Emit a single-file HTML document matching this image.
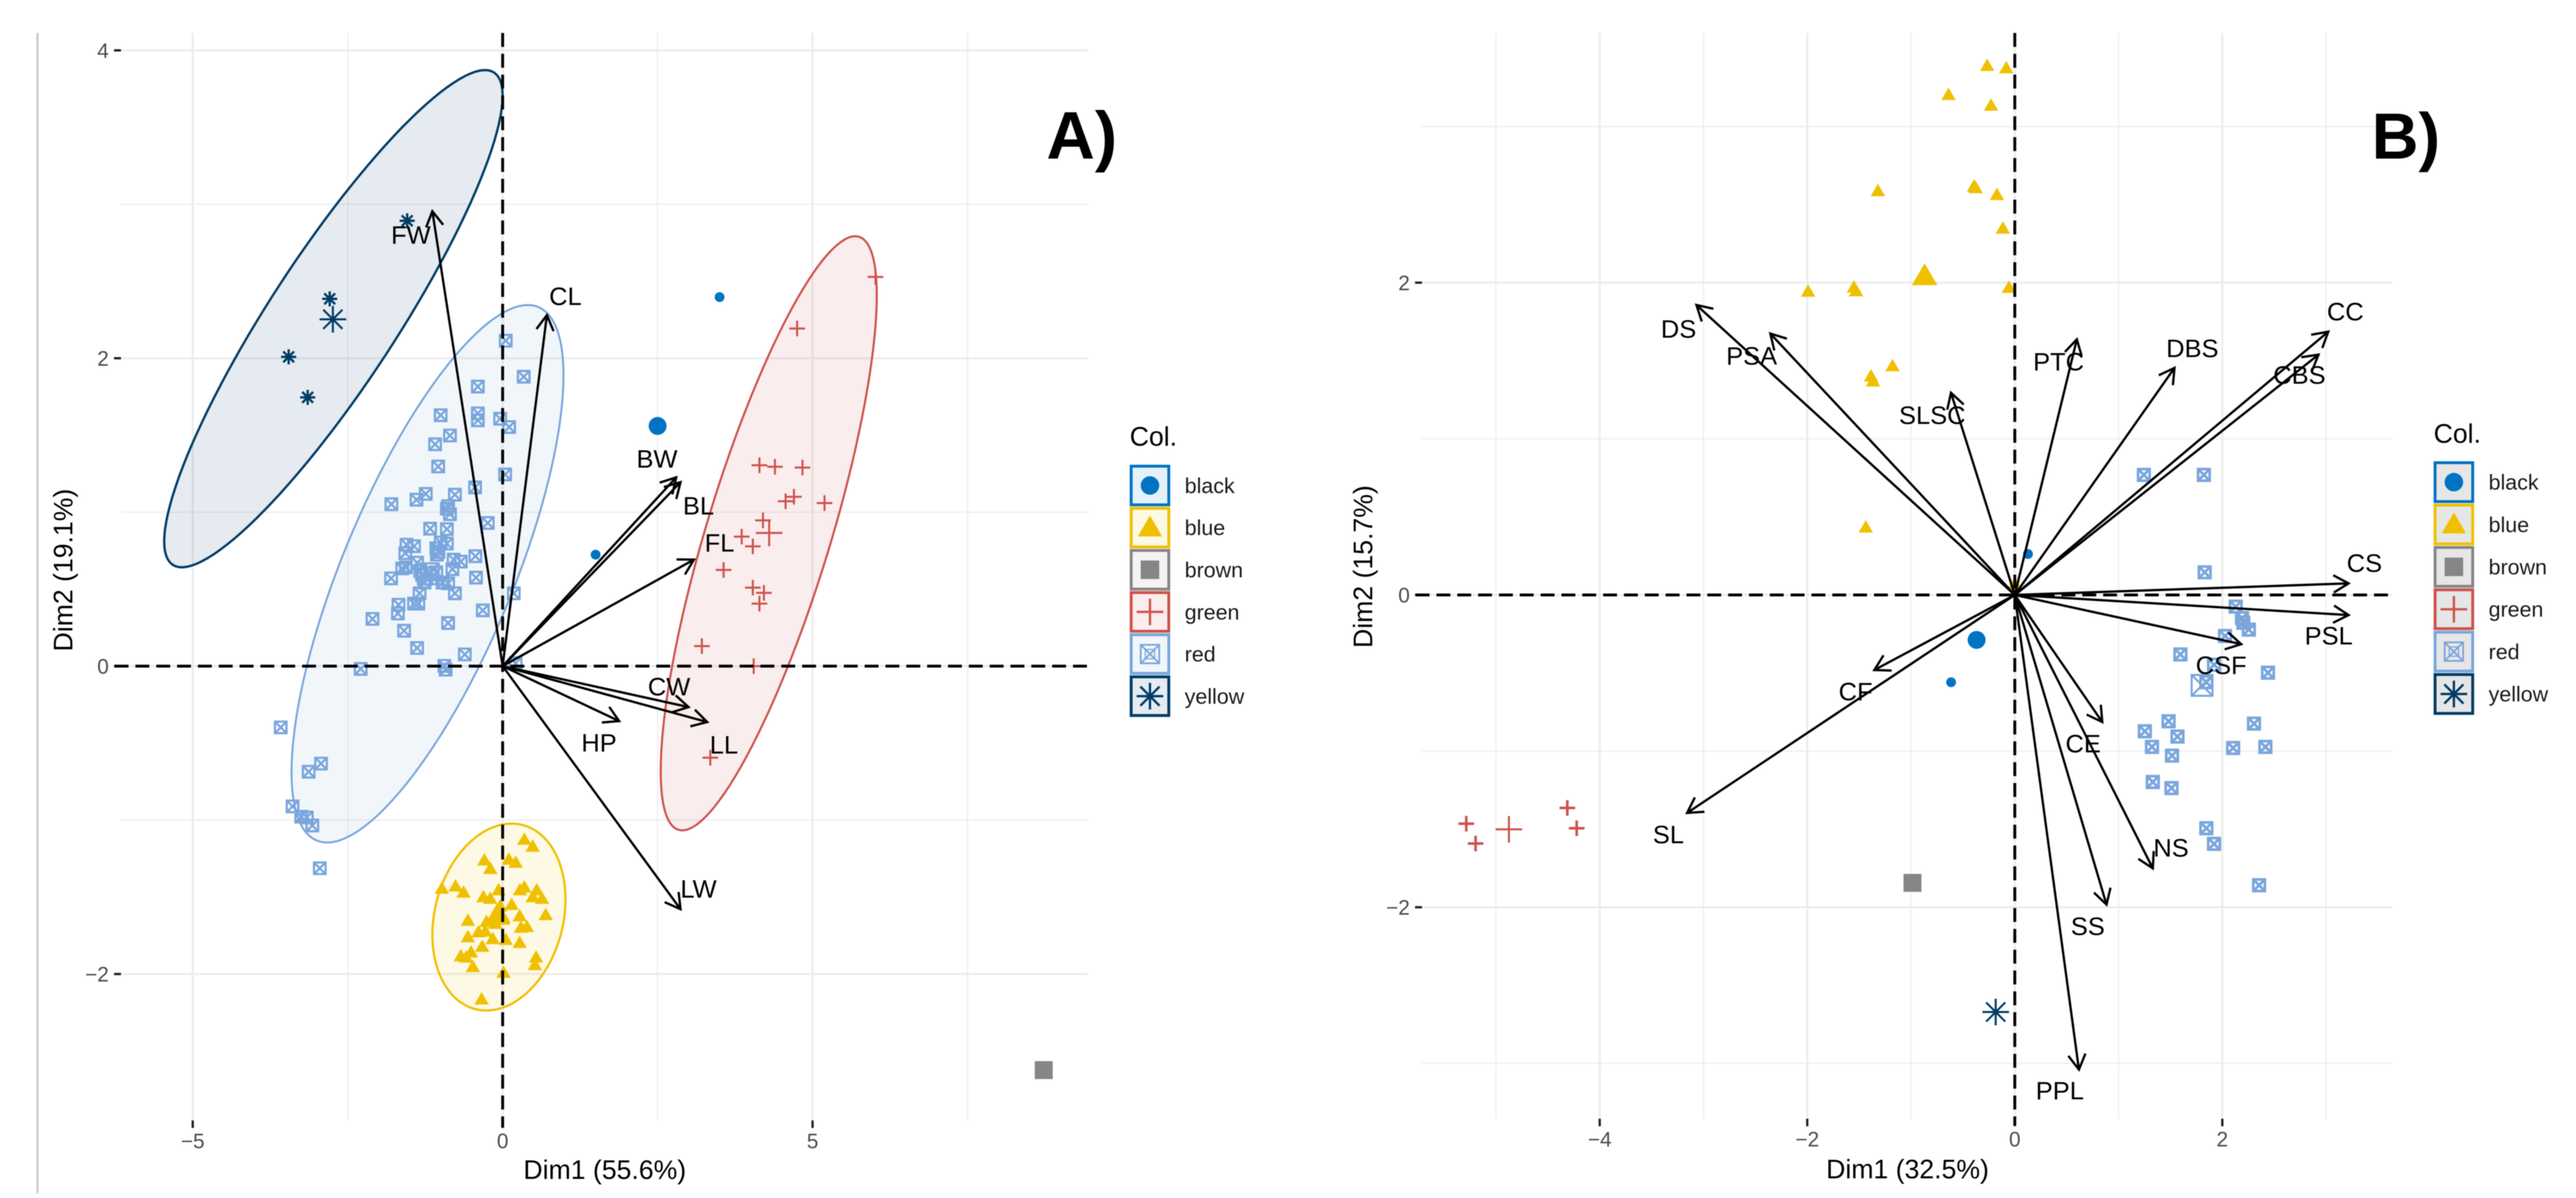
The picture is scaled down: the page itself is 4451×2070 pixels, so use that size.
<!DOCTYPE html>
<html lang="en">
<head>
<meta charset="utf-8">
<title>PCA biplots</title>
<style>
html,body{margin:0;padding:0;background:#fff;}
svg{display:block;filter:blur(0.8px);}
text{font-family:"Liberation Sans",sans-serif;}
</style>
</head>
<body>
<svg id="figure" xmlns="http://www.w3.org/2000/svg" width="4451" height="2070" viewBox="0 0 4451 2070">
  <rect x="0" y="0" width="4451" height="2070" fill="#ffffff"/>
  <rect x="63" y="57" width="3.5" height="2005" fill="#c8c8c8"/>
  <g id="panel-a"></g>
  <g id="panel-b"></g>
  <text x="1045" y="2037" font-size="46" text-anchor="middle" fill="#000">Dim1 (55.6%)</text>
  <text transform="translate(125 985) rotate(-90)" font-size="46" text-anchor="middle" fill="#000">Dim2 (19.1%)</text>
  <text x="3296" y="2036" font-size="46" text-anchor="middle" fill="#000">Dim1 (32.5%)</text>
  <text transform="translate(2371 979) rotate(-90)" font-size="46" text-anchor="middle" fill="#000">Dim2 (15.7%)</text>
  <text x="1808" y="274" font-size="116" font-weight="bold" fill="#000">A)</text>
  <text x="4098" y="274" font-size="112" font-weight="bold" fill="#000">B)</text>
  <text x="1952" y="770" font-size="46" fill="#000">Col.</text>
  <text x="4205" y="765" font-size="46" fill="#000">Col.</text>
</svg>
<script>
// ---- shared categories ----
const legendNames = ['black', 'blue', 'brown', 'green', 'red', 'yellow'];
const groupColors = ['#0073C2', '#EFC000', '#868686', '#CD534C', '#7AA6DC', '#003C67'];
const groupShapes = ['circle', 'triangle', 'square', 'plus', 'boxx', 'star'];

// ---- panel A tick values ----
const aXMajor = [-5, 0, 5];
const aXMinor = [-2.5, 2.5, 7.5];
const aYMajor = [-2, 0, 2, 4];
const aYMinor = [-1, 1, 3];
const aXTickLabels = ['\u22125', '0', '5'];
const aYTickLabels = ['\u22122', '0', '2', '4'];

// ---- panel A points in Dim1 / Dim2 units ----
const aBlack = [[3.50, 2.397], [1.50, 0.724]];
const aBlackMean = [2.50, 1.56];
const aBlue = [[0.35,-1.127],[0.485,-1.172],[-0.295,-1.261],[-0.20,-1.316],[0.10,-1.256],[0.21,-1.276],[-0.98,-1.445],[-0.76,-1.43],[-0.63,-1.47],[-0.31,-1.50],[-0.20,-1.51],[-0.065,-1.455],[0.28,-1.455],[0.35,-1.437],[0.55,-1.455],[0.485,-1.50],[0.635,-1.51],[0.145,-1.55],[-0.04,-1.56],[0.695,-1.616],[0.275,-1.624],[-0.085,-1.611],[0.015,-1.636],[-0.15,-1.648],[-0.56,-1.653],[-0.26,-1.661],[-0.12,-1.673],[0.39,-1.693],[0.295,-1.698],[0.05,-1.777],[0.275,-1.797],[-0.16,-1.772],[-0.28,-1.723],[-0.39,-1.728],[-0.56,-1.76],[-0.33,-1.822],[-0.51,-1.859],[0.54,-1.892],[0.52,-1.941],[-0.675,-1.884],[-0.59,-1.892],[-0.48,-1.954],[0.015,-1.991],[-0.34,-2.164]];
const aBlueMean = [-0.085, -1.62];
const aBrownMean = [8.73, -2.624];
const aGreen = [[6.015,2.528],[4.751,2.193],[4.143,1.305],[4.393,1.295],[4.837,1.29],[4.565,1.071],[4.70,1.10],[5.193,1.059],[4.20,0.947],[3.857,0.841],[4.036,0.778],[3.565,0.625],[4.036,0.51],[4.215,0.476],[4.143,0.406],[3.214,0.13],[4.05,0.0],[3.35,-0.595]];
const aGreenMean = [4.30, 0.865];
const aRed = [[0.05,2.114],[0.34,1.88],[-0.40,1.816],[-1.00,1.63],[-0.40,1.642],[-0.40,1.597],[-0.04,1.607],[0.105,1.553],[-0.85,1.498],[-1.09,1.441],[-1.04,1.297],[0.04,1.245],[-0.445,1.161],[-1.795,1.052],[-1.39,1.081],[-1.24,1.119],[-0.77,1.114],[-0.90,1.022],[-0.85,0.987],[-0.88,1.039],[-0.24,0.93],[-1.17,0.893],[-0.90,0.89],[-1.55,0.789],[-1.43,0.779],[-1.57,0.734],[-1.00,0.803],[-0.90,0.796],[-1.07,0.766],[-1.035,0.741],[-0.79,0.692],[-0.675,0.679],[-0.44,0.714],[-1.06,0.724],[-1.38,0.672],[-1.62,0.635],[-1.56,0.642],[-1.80,0.57],[-0.81,0.63],[-0.43,0.575],[-1.33,0.617],[-1.30,0.593],[-1.23,0.568],[-1.17,0.605],[-1.07,0.61],[-0.97,0.543],[-0.88,0.538],[-0.77,0.473],[0.18,0.473],[-1.34,0.473],[-1.26,0.543],[-1.68,0.399],[-1.43,0.406],[-1.36,0.406],[-1.69,0.342],[-0.32,0.362],[-2.10,0.307],[-0.88,0.28],[-1.59,0.23],[-1.38,0.118],[-0.61,0.076],[-2.29,-0.018],[-0.94,0.002],[-0.92,-0.023],[0.21,0.019],[-3.58,-0.398],[-2.93,-0.633],[-3.13,-0.686],[-3.39,-0.911],[-3.25,-0.978],[-3.16,-0.983],[-3.07,-1.035],[-2.95,-1.313]];
const aRedMean = [-1.2, 0.6];
const aYellow = [[-1.54,2.893],[-2.79,2.386],[-3.452,2.009],[-3.145,1.746]];
const aYellowMean = [-2.739, 2.253];

// ---- panel A confidence ellipses: centre, half-width, half-height, phase ----
const aEllipseYellow = [-2.73, 2.257, 2.73, 1.615, 0.46];
const aEllipseRed = [-1.212, 0.60, 2.194, 1.746, 0.741];
const aEllipseBlue = [-0.06, -1.63, 1.074, 0.607, 1.38];
const aEllipseGreen = [4.293, 0.863, 1.743, 1.93, 0.643];

// ---- panel A variable loadings ----
const aVarNames = ['FW', 'CL', 'BW', 'BL', 'FL', 'CW', 'LL', 'HP', 'LW'];
const aVarDim1 = [-1.134, 0.714, 2.80, 2.87, 3.086, 3.00, 3.30, 1.88, 2.87];
const aVarDim2 = [2.955, 2.28, 1.226, 1.195, 0.692, -0.266, -0.363, -0.357, -1.579];
const aLabelDim1 = [-1.48, 1.013, 2.49, 3.16, 3.50, 2.685, 3.57, 1.555, 3.16];
const aLabelDim2 = [2.804, 2.406, 1.35, 1.045, 0.805, -0.13, -0.508, -0.494, -1.444];

// ---- panel B tick values ----
const bXMajor = [-4, -2, 0, 2];
const bXMinor = [-5, -3, -1, 1, 3];
const bYMajor = [-2, 0, 2];
const bYMinor = [-3, -1, 1, 3];
const bXTickLabels = ['\u22124', '\u22122', '0', '2'];
const bYTickLabels = ['\u22122', '0', '2'];

// ---- panel B points ----
const bBlack = [[0.127, 0.262], [-0.614, -0.559]];
const bBlackMean = [-0.368, -0.288];
const bBlue = [[-1.319,2.587],[-1.992,1.943],[-1.55,1.97],[-1.53,1.946],[-1.178,1.466],[-1.386,1.40],[-1.366,1.368],[-1.436,0.433],[-0.266,3.389],[-0.082,3.374],[-0.639,3.203],[-0.229,3.135],[-0.393,2.616],[-0.377,2.606],[-0.172,2.562],[-0.115,2.347],[-0.057,1.968],[0,0.07]];
const bBlueMean = [-0.869, 2.043];
const bBrownMean = [-0.986, -1.844];
const bGreen = [[-5.286,-1.465],[-5.196,-1.592],[-4.312,-1.364],[-4.222,-1.494]];
const bGreenMean = [-4.875, -1.501];
const bRed = [[1.244,0.769],[1.822,0.769],[1.83,0.145],[2.129,-0.075],[2.19,-0.148],[2.202,-0.178],[2.255,-0.222],[2.026,-0.263],[1.596,-0.381],[1.92,-0.447],[2.44,-0.498],[1.846,-0.559],[1.482,-0.809],[1.253,-0.873],[1.568,-0.907],[1.322,-0.973],[1.515,-1.029],[2.305,-0.824],[2.104,-0.98],[2.415,-0.973],[1.33,-1.198],[1.51,-1.237],[1.846,-1.494],[1.92,-1.594],[2.354,-1.859]];
const bRedMean = [1.805, -0.579];
const bYellowMean = [-0.184, -2.671];

// ---- panel B variable loadings ----
const bVarNames = ['DS', 'PSA', 'SLSC', 'PTC', 'DBS', 'CC', 'CBS', 'CS', 'PSL', 'CSF', 'CE', 'NS', 'SS', 'PPL', 'CF', 'SL'];
const bVarDim1 = [-3.068, -2.356, -0.615, 0.598, 1.539, 3.021, 2.927, 3.217, 3.217, 2.182, 0.843, 1.33, 0.884, 0.618, -1.354, -3.158];
const bVarDim2 = [1.857, 1.674, 1.295, 1.637, 1.454, 1.686, 1.539, 0.074, -0.129, -0.315, -0.814, -1.751, -1.983, -3.04, -0.481, -1.396];
const bLabelDim1 = [-3.24, -2.536, -0.795, 0.422, 1.711, 3.185, 2.743, 3.369, 3.025, 1.989, 0.659, 1.506, 0.704, 0.434, -1.534, -3.338];
const bLabelDim2 = [1.706, 1.535, 1.155, 1.498, 1.583, 1.818, 1.412, 0.208, -0.258, -0.447, -0.948, -1.616, -2.118, -3.17, -0.616, -1.531];

const SVGNS = 'http://www.w3.org/2000/svg';

function node(tag, parent, name) {
  const el = document.createElementNS(SVGNS, tag);
  
  
  parent.appendChild(el);
  return el;
}

function rule(parent, name, x1, y1, x2, y2, color, width, dash) {
  const el = node('line', parent, name);
  el.setAttribute('x1', x1);
  el.setAttribute('y1', y1);
  el.setAttribute('x2', x2);
  el.setAttribute('y2', y2);
  el.setAttribute('stroke', color);
  el.setAttribute('stroke-width', width);
  if (dash) el.setAttribute('stroke-dasharray', dash);
  return el;
}

function label(parent, name, x, y, str, size, color, anchor) {
  const el = node('text', parent, name);
  el.setAttribute('x', x);
  el.setAttribute('y', y);
  el.setAttribute('font-size', size);
  el.setAttribute('fill', color);
  el.setAttribute('text-anchor', anchor);
  el.textContent = str;
  return el;
}

// Draws one plotting symbol centred on (px, py); size is its overall width in pixels.
function marker(parent, name, shape, px, py, size, color, strokeW) {
  const el = node('path', parent, name);
  const h = size / 2;
  let d = '';
  if (shape === 'circle') {
    d = 'M' + (px - h) + ' ' + py + 'a' + h + ' ' + h + ' 0 1 0 ' + size + ' 0a' + h + ' ' + h + ' 0 1 0 ' + (-size) + ' 0Z';
    el.setAttribute('fill', color);
  } else if (shape === 'triangle') {
    const th = size * 0.86;
    d = 'M' + px + ' ' + (py - th * 0.58) + 'L' + (px + h) + ' ' + (py + th * 0.42) + 'L' + (px - h) + ' ' + (py + th * 0.42) + 'Z';
    el.setAttribute('fill', color);
  } else if (shape === 'square') {
    d = 'M' + (px - h) + ' ' + (py - h) + 'h' + size + 'v' + size + 'h' + (-size) + 'Z';
    el.setAttribute('fill', color);
  } else if (shape === 'plus') {
    d = 'M' + (px - h) + ' ' + py + 'h' + size + 'M' + px + ' ' + (py - h) + 'v' + size;
    el.setAttribute('fill', 'none');
    el.setAttribute('stroke', color);
    el.setAttribute('stroke-width', strokeW);
  } else if (shape === 'boxx') {
    d = 'M' + (px - h) + ' ' + (py - h) + 'h' + size + 'v' + size + 'h' + (-size) + 'Z' +
        'M' + (px - h) + ' ' + (py - h) + 'L' + (px + h) + ' ' + (py + h) +
        'M' + (px + h) + ' ' + (py - h) + 'L' + (px - h) + ' ' + (py + h);
    el.setAttribute('fill', 'none');
    el.setAttribute('stroke', color);
    el.setAttribute('stroke-width', strokeW);
  } else {
    const k = h * 0.72;
    d = 'M' + (px - h) + ' ' + py + 'h' + size + 'M' + px + ' ' + (py - h) + 'v' + size +
        'M' + (px - k) + ' ' + (py - k) + 'L' + (px + k) + ' ' + (py + k) +
        'M' + (px + k) + ' ' + (py - k) + 'L' + (px - k) + ' ' + (py + k);
    el.setAttribute('fill', 'none');
    el.setAttribute('stroke', color);
    el.setAttribute('stroke-width', strokeW);
  }
  el.setAttribute('d', d);
  return el;
}

function drawGrid(root, sx, sy, box, xMajor, xMinor, yMajor, yMinor) {
  const grid = node('g', root, 'grid-lines');
  xMinor.forEach(function (v) { rule(grid, 'minor-vertical-gridline', sx(v), box.t, sx(v), box.b, '#f0f0f0', 2.5); });
  yMinor.forEach(function (v) { rule(grid, 'minor-horizontal-gridline', box.l, sy(v), box.r, sy(v), '#f0f0f0', 2.5); });
  xMajor.forEach(function (v) { rule(grid, 'major-vertical-gridline', sx(v), box.t, sx(v), box.b, '#ececec', 3.5); });
  yMajor.forEach(function (v) { rule(grid, 'major-horizontal-gridline', box.l, sy(v), box.r, sy(v), '#ececec', 3.5); });
}

function drawTicks(root, sx, sy, box, xMajor, yMajor, xLabels, yLabels) {
  const ticks = node('g', root, 'axis-ticks');
  xMajor.forEach(function (v, i) {
    rule(ticks, 'x-axis-tick', sx(v), box.b, sx(v), box.b + 13, '#222', 4);
    label(ticks, 'x-tick-label', sx(v), box.b + 48, xLabels[i], 36, '#4d4d4d', 'middle');
  });
  yMajor.forEach(function (v, i) {
    rule(ticks, 'y-axis-tick', box.l - 12, sy(v), box.l, sy(v), '#222', 4);
    label(ticks, 'y-tick-label', box.l - 21, sy(v) + 13, yLabels[i], 36, '#4d4d4d', 'end');
  });
}

function drawEllipse(root, sx, sy, params, color, width, name) {
  const el = node('path', root, name);
  const steps = 120;
  let d = '';
  for (let i = 0; i <= steps; i++) {
    const t = (i / steps) * Math.PI * 2;
    const vx = params[0] + params[2] * Math.cos(t);
    const vy = params[1] + params[3] * Math.cos(t + params[4]);
    d += (i === 0 ? 'M' : 'L') + sx(vx).toFixed(1) + ' ' + sy(vy).toFixed(1);
  }
  el.setAttribute('d', d + 'Z');
  el.setAttribute('fill', color);
  el.setAttribute('fill-opacity', '0.1');
  el.setAttribute('stroke', color);
  el.setAttribute('stroke-width', width);
}

function drawPoints(root, sx, sy, points, shape, size, color, strokeW, name) {
  const g = node('g', root, name + '-series');
  points.forEach(function (p) {
    marker(g, name + '-point', shape, sx(p[0]), sy(p[1]), size, color, strokeW);
  });
}

function drawArrows(root, sx, sy, names, dim1, dim2, labelX, labelY) {
  const g = node('g', root, 'variable-arrows');
  const ox = sx(0);
  const oy = sy(0);
  names.forEach(function (varName, i) {
    const tx = sx(dim1[i]);
    const ty = sy(dim2[i]);
    const angle = Math.atan2(ty - oy, tx - ox);
    const arrow = node('path', g, 'arrow-' + varName.toLowerCase());
    const headLen = 30;
    const spread = 0.52;
    const ax1 = tx - headLen * Math.cos(angle - spread);
    const ay1 = ty - headLen * Math.sin(angle - spread);
    const ax2 = tx - headLen * Math.cos(angle + spread);
    const ay2 = ty - headLen * Math.sin(angle + spread);
    arrow.setAttribute('d', 'M' + ox + ' ' + oy + 'L' + tx + ' ' + ty + 'M' + ax1 + ' ' + ay1 + 'L' + tx + ' ' + ty + 'L' + ax2 + ' ' + ay2);
    arrow.setAttribute('fill', 'none');
    arrow.setAttribute('stroke', '#000');
    arrow.setAttribute('stroke-width', 4);
    label(g, 'variable-label-' + varName.toLowerCase(), sx(labelX[i]), sy(labelY[i]) + 16, varName, 44, '#000', 'middle');
  });
}

function drawLegend(root, x, top, step, labelX, grayKey) {
  const g = node('g', root, 'legend');
  legendNames.forEach(function (entry, i) {
    const color = groupColors[i];
    const key = node('rect', g, 'legend-key-' + entry);
    key.setAttribute('x', x + 2.5);
    key.setAttribute('y', top + step * i + 2.5);
    key.setAttribute('width', 65);
    key.setAttribute('height', step - 6);
    if (grayKey) {
      key.setAttribute('fill', '#e6e6e6');
    } else {
      key.setAttribute('fill', color);
      key.setAttribute('fill-opacity', '0.1');
    }
    const border = node('rect', g, 'legend-key-border-' + entry);
    border.setAttribute('x', x + 2.5);
    border.setAttribute('y', top + step * i + 2.5);
    border.setAttribute('width', 65);
    border.setAttribute('height', step - 6);
    border.setAttribute('fill', 'none');
    border.setAttribute('stroke', color);
    border.setAttribute('stroke-width', 5);
    const cx = x + 35;
    const cy = top + step * i + (step - 1) / 2;
    const sizes = [32, 42, 32, 46, 32, 46];
    marker(g, 'legend-symbol-' + entry, groupShapes[i], cx, cy, sizes[i], color, i === 4 ? 3 : 4);
    if (i === 4) {
      marker(g, 'legend-symbol-inner-' + entry, 'boxx', cx, cy, 16, color, 2);
    }
    label(g, 'legend-label-' + entry, labelX, cy + 13, entry, 37, '#1a1a1a', 'start');
  });
}

function drawPanel(rootId, layout, parts) {
  const root = document.getElementById(rootId);
  const sx = function (v) { return layout.x0 + v * layout.ux; };
  const sy = function (v) { return layout.y0 - v * layout.uy; };
  const box = layout;
  drawGrid(root, sx, sy, box, parts.xMajor, parts.xMinor, parts.yMajor, parts.yMinor);
  drawTicks(root, sx, sy, box, parts.xMajor, parts.yMajor, parts.xLabels, parts.yLabels);
  parts.ellipses.forEach(function (e) { drawEllipse(root, sx, sy, e[0], e[1], e[2], e[3]); });
  parts.series.forEach(function (s) {
    const idx = s[0];
    drawPoints(root, sx, sy, s[1], groupShapes[idx], parts.pointSize[idx], groupColors[idx], parts.pointStroke[idx], legendNames[idx]);
    if (s[2]) {
      const big = [31, 44, 31, 46, 36, 46];
      marker(root, legendNames[idx] + '-group-mean', groupShapes[idx], sx(s[2][0]), sy(s[2][1]), big[idx], groupColors[idx], 3.5);
    }
  });
  rule(root, 'zero-horizontal-dashed-line', box.l - 11, sy(0), box.r, sy(0), '#000', 5, '24 12');
  rule(root, 'zero-vertical-dashed-line', sx(0), box.t, sx(0), box.b + 12, '#000', 5, '24 12');
  drawArrows(root, sx, sy, parts.varNames, parts.dim1, parts.dim2, parts.labelX, parts.labelY);
  drawLegend(root, layout.legendX, layout.legendTop, layout.legendStep, layout.legendLabelX, layout.grayKey);
}

drawPanel('panel-a',
  { x0: 868.5, ux: 107.1, y0: 1151, uy: 266, l: 209, r: 1880, t: 57, b: 1936,
    legendX: 1952, legendTop: 803, legendStep: 72.8, legendLabelX: 2047, grayKey: false },
  { xMajor: aXMajor, xMinor: aXMinor, yMajor: aYMajor, yMinor: aYMinor,
    xLabels: aXTickLabels, yLabels: aYTickLabels,
    ellipses: [
      [aEllipseYellow, groupColors[5], 4, 'yellow-confidence-ellipse'],
      [aEllipseRed, groupColors[4], 3.4, 'red-confidence-ellipse'],
      [aEllipseBlue, groupColors[1], 3.8, 'blue-confidence-ellipse'],
      [aEllipseGreen, groupColors[3], 3.6, 'green-confidence-ellipse']
    ],
    pointSize: [17, 25, 30, 27, 20, 26],
    pointStroke: [3, 3, 3, 3.5, 3.8, 4],
    series: [
      [0, aBlack, aBlackMean],
      [1, aBlue, aBlueMean],
      [2, [], aBrownMean],
      [3, aGreen, aGreenMean],
      [4, aRed, aRedMean],
      [5, aYellow, aYellowMean]
    ],
    varNames: aVarNames, dim1: aVarDim1, dim2: aVarDim2, labelX: aLabelDim1, labelY: aLabelDim2 });

drawPanel('panel-b',
  { x0: 3481.3, ux: 179.3, y0: 1028, uy: 269.8, l: 2457, r: 4133, t: 57, b: 1933,
    legendX: 4205, legendTop: 797, legendStep: 73.2, legendLabelX: 4300, grayKey: true },
  { xMajor: bXMajor, xMinor: bXMinor, yMajor: bYMajor, yMinor: bYMinor,
    xLabels: bXTickLabels, yLabels: bYTickLabels,
    ellipses: [],
    pointSize: [17, 25, 30, 27, 20, 26],
    pointStroke: [3, 3, 3, 4.5, 4.6, 4],
    series: [
      [0, bBlack, bBlackMean],
      [1, bBlue, bBlueMean],
      [2, [], bBrownMean],
      [3, bGreen, bGreenMean],
      [4, bRed, bRedMean],
      [5, [], bYellowMean]
    ],
    varNames: bVarNames, dim1: bVarDim1, dim2: bVarDim2, labelX: bLabelDim1, labelY: bLabelDim2 });
</script>
</body>
</html>
